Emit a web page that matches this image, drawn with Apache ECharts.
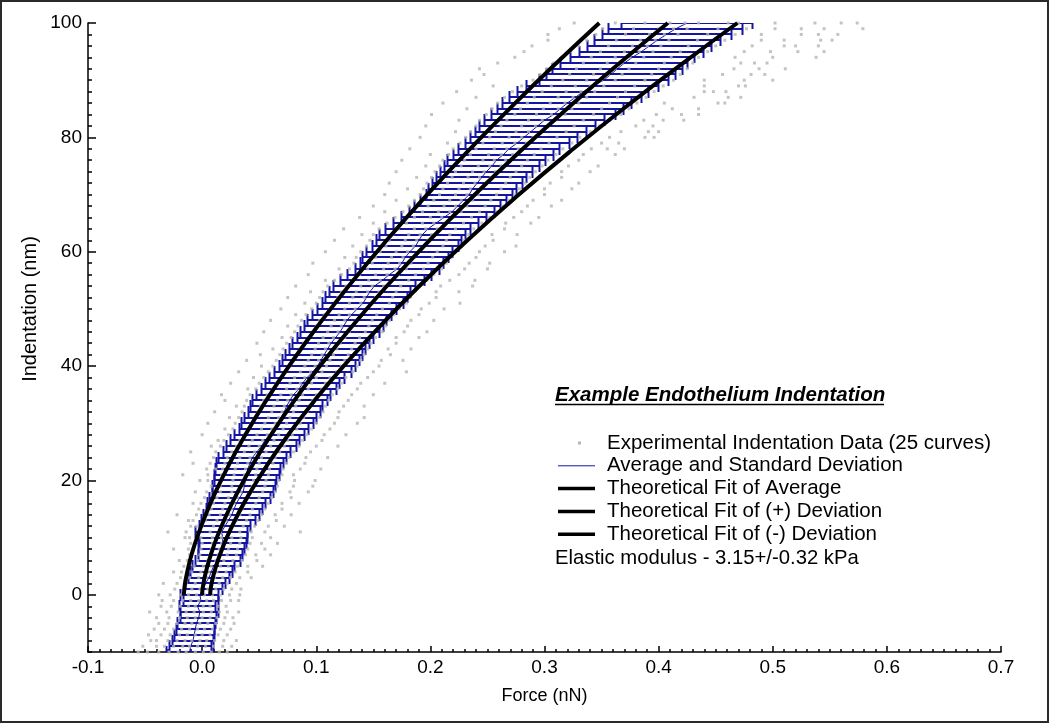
<!DOCTYPE html>
<html><head><meta charset="utf-8">
<script src="https://cdn.jsdelivr.net/npm/echarts@6/dist/echarts.min.js"></script>
<style>html,body{margin:0;padding:0;background:#fff}#c{width:1050px;height:724px}</style>
</head><body><div id="c"></div>
<script>
// Indentation levels (nm)
const yLevels = [-10,-9,-8,-7,-6,-5,-4,-3,-2,-1,
 0,1,2,3,4,5,6,7,8,9,10,11,12,13,14,15,16,17,18,19,
 20,21,22,23,24,25,26,27,28,29,30,31,32,33,34,35,36,37,38,39,
 40,41,42,43,44,45,46,47,48,49,50,51,52,53,54,55,56,57,58,59,
 60,61,62,63,64,65,66,67,68,69,70,71,72,73,74,75,76,77,78,79,
 80,81,82,83,84,85,86,87,88,89,90,91,92,93,94,95,96,97,98,99,100];
// Average force (pN, i.e. thousandths of nN)
const avgForce = [-11,-10,-8,-7,-6,-5,-3,-2,-4,-1,
 -2,1,3,6,8,10,14,16,17,18,
 18,17,20,23,26,28,30,33,36,37,
 38,39,40,42,44,48,52,55,59,63,
 66,69,72,74,77,80,85,88,92,97,
 101,104,107,110,113,117,121,124,127,131,
 136,141,144,147,151,158,164,171,175,178,
 182,187,190,193,198,205,212,219,224,229,
 234,237,241,245,249,254,258,264,269,276,
 282,288,294,300,308,314,320,327,334,342,
 352,358,364,370,377,385,392,399,407,415,
 425];
// Standard deviation of force (pN)
const sdForce = [21,19,18,18,17,17,16,17,16,16,
 17,17,18,18,19,19,20,20,21,21,
 22,23,23,24,25,25,26,27,27,28,
 28,29,29,30,30,30,31,31,31,31,
 32,32,32,32,33,33,33,33,33,34,
 34,34,34,34,34,34,35,35,35,35,
 35,36,36,36,36,37,37,37,37,38,
 38,38,38,38,38,38,38,38,38,38,
 38,39,40,40,41,42,43,44,45,46,
 47,49,51,53,55,56,57,58,58,58,
 57,57,57,56,55,55,55,56,57,59,
 58];
// Experimental points (pN) per indentation level
const scatterRows = [
 [-56,-48,-38,-29,-21,-14,-6,1,8,15,22],
 [-52,-40,-33,-25,-17,-11,-4,3,10,18,26],
 [-45,-40,-30,-22,-15,-9,-2,4,11,19,30],
 [-47,-36,-28,-20,-13,-6,0,7,14,22],
 [-42,-33,-25,-18,-11,-4,2,9,16,25],
 [-38,-30,-22,-15,-9,-2,5,12,19,28],
 [-40,-29,-20,-13,-6,0,7,13,20,27],
 [-46,-31,-21,-14,-7,1,8,15,22,32],
 [-36,-27,-19,-12,-6,1,7,14,21],
 [-35,-25,-17,-10,-3,4,10,17,25,32],
 [-38,-28,-19,-12,-5,2,9,16,24,33],
 [-24,-16,-9,-2,5,12,19,26,34],
 [-34,-22,-14,-6,1,8,15,22,30],
 [-19,-11,-3,4,11,18,25,33,43],
 [-25,-18,-9,-1,6,13,21,29,40],
 [-16,-7,1,8,16,23,31,40,53],
 [-20,-13,-4,5,12,19,27,35,48],
 [-11,-2,7,14,22,30,38,47,60],
 [-25,-12,-1,8,15,23,31,40,55],
 [-10,0,9,17,25,33,42,52,66],
 [-15,-11,-1,9,17,26,34,44,60],
 [-30,-14,-3,7,16,24,33,43,55,86],
 [-5,-10,0,10,18,27,36,46,58,72],
 [-12,-8,3,13,21,30,39,49,65],
 [-22,-5,6,16,24,33,42,52,64,78],
 [-3,8,18,26,35,44,55,70],
 [-8,-1,10,20,28,37,47,58,70,85],
 [2,13,23,31,40,50,61,78],
 [-6,4,16,26,34,43,53,64,77,93],
 [8,16,26,35,44,55,66,80,97],
 [-2,5,17,27,36,45,56,67,81,99],
 [-17,5,17,28,37,47,58,70,80],
 [4,12,18,29,38,48,59,71,86,104],
 [-8,7,20,31,40,50,62,74,90],
 [10,22,33,42,52,64,76,91,110],
 [-10,12,26,37,46,56,68,80,95],
 [8,16,30,41,50,60,72,85,100,119],
 [14,19,33,44,53,63,75,88,105],
 [0,23,37,48,57,67,79,92,107,126],
 [20,27,41,52,61,71,83,96,112],
 [5,29,43,55,64,74,86,100,116,136],
 [24,32,46,58,67,77,89,103,119,142],
 [11,35,49,61,70,80,92,106,120],
 [30,37,51,63,72,82,94,108,124,142],
 [20,39,54,66,75,85,97,111,128],
 [17,42,57,69,78,88,100,114,131,150],
 [40,47,62,74,83,93,105,119,136],
 [25,50,65,77,86,96,108,122,139,160],
 [45,54,69,81,90,100,112,126,145],
 [32,58,73,86,95,105,118,132,150,179],
 [52,62,77,90,99,109,122,136,155],
 [39,65,80,93,102,112,125,139,157,176],
 [51,68,83,96,105,115,128,142,165],
 [62,71,86,99,108,118,131,145,163,183],
 [48,74,89,102,111,121,134,148,170],
 [70,78,93,106,115,125,138,152,170,190],
 [54,81,97,110,119,129,143,158,177,197],
 [75,84,100,113,122,132,146,161,180],
 [60,87,103,116,125,135,149,164,183,203],
 [82,91,107,120,129,139,153,168,190],
 [69,96,112,125,134,144,158,173,192,212],
 [90,100,116,129,139,149,164,179,199,226],
 [75,103,119,132,142,152,167,182,205],
 [95,106,122,135,145,155,170,185,205,225],
 [82,110,126,139,149,159,174,189,209,237],
 [108,116,132,146,156,166,181,197,217,239],
 [93,122,138,152,162,172,187,203,225],
 [120,129,145,159,169,179,194,210,230,250],
 [97,133,149,163,173,183,198,214,234,252],
 [125,135,152,166,176,186,202,218,240],
 [108,139,156,170,180,190,206,222,243,265],
 [132,144,161,175,185,195,211,227,248,275],
 [116,147,164,178,188,198,214,230,255],
 [140,150,167,181,191,201,217,233,254,276],
 [124,155,172,186,196,206,222,238,265],
 [150,162,179,193,203,213,229,245,266,288],
 [138,169,186,200,210,220,236,252,273,295],
 [160,176,193,207,217,227,243,259,280],
 [150,181,198,212,222,232,248,264,285,306],
 [170,186,203,217,227,237,253,269,290,315],
 [160,191,208,222,232,242,258,274,300],
 [180,194,211,225,235,245,262,278,300,324],
 [164,197,215,229,239,249,266,283,305,330],
 [188,201,219,233,243,253,270,287,315],
 [170,204,222,237,247,257,275,292,315,340],
 [196,208,227,242,252,262,280,298,321,347],
 [175,211,230,246,256,266,285,303,330],
 [200,216,235,251,262,272,291,310,334,362],
 [182,220,240,256,267,277,297,316,341,355,370],
 [215,226,246,263,274,284,304,324,350,365],
 [191,231,252,269,280,290,311,331,357,388,396],
 [222,235,257,275,286,297,319,340,367,391,400],
 [196,240,262,280,292,303,326,348,380,395],
 [225,243,267,286,298,310,334,357,387,404,422],
 [201,249,274,293,306,318,343,367,398,420,435],
 [232,254,279,299,312,324,350,374,412,435],
 [211,259,285,305,318,330,357,381,405,452,458],
 [240,265,291,312,325,337,364,389,431,461,472],
 [223,272,298,319,332,344,371,396,440,448,459],
 [255,280,306,327,340,352,379,404,440,470,476],
 [236,290,316,337,350,362,388,413,440,475,500],
 [247,296,322,343,356,368,394,419,456,481,493],
 [243,302,328,349,362,374,400,425,466,488,511],
 [259,308,334,355,368,380,405,430,472,484,495],
 [274,315,341,362,375,387,411,435,467,500,538],
 [282,323,349,370,383,395,419,443,475,498,522,545],
 [289,330,356,377,390,402,426,450,482,510,520,540],
 [303,337,363,384,397,409,434,458,490,510,542,552],
 [303,345,371,392,405,417,443,467,490,525,540,557],
 [313,351,378,400,413,425,452,477,502,525,545,579],
 [326,362,388,410,423,435,461,470,502,537,560,574]
];
// Theoretical fits (indentation nm vs force nN)
const fitY       = [0,1,2,3,5,7,10,14,18,23,28,34,40,47,54,62,70,78,86,93,100];
const fitMinus   = [-0.016,-0.0156,-0.015,-0.0141,-0.0119,-0.0093,-0.0045,0.0031,0.0118,0.0241,0.0379,0.0562,0.0761,0.1013,0.1284,0.1617,0.1972,0.2348,0.2743,0.3105,0.348];
const fitAverage = [0,0.0004,0.0012,0.0021,0.0046,0.0076,0.0129,0.0214,0.0312,0.045,0.0605,0.0809,0.1032,0.1315,0.1619,0.1992,0.239,0.2811,0.3254,0.3659,0.408];
const fitPlus    = [0.007,0.0075,0.0083,0.0094,0.0122,0.0156,0.0216,0.0312,0.0423,0.058,0.0755,0.0986,0.1239,0.1559,0.1903,0.2325,0.2776,0.3253,0.3754,0.4214,0.469];
const yLabelValues = [0,20,40,60,80,100];
const legendNames = ['Experimental Indentation Data (25 curves)','Average and Standard Deviation','Theoretical Fit of Average','Theoretical Fit of (+) Deviation','Theoretical Fit of (-) Deviation'];
const titleText = 'Example Endothelium Indentation';
const noteText = 'Elastic modulus - 3.15+/-0.32 kPa';

const FONT = '"Liberation Sans", Arial, sans-serif';
const BLUE = '#1515a3';
const GRAY = '#b5b5b5';

const barData = yLevels.map((y,i)=>[y,(avgForce[i]-sdForce[i])/1000,(avgForce[i]+sdForce[i])/1000]);
const avgData = yLevels.map((y,i)=>[avgForce[i]/1000,y]);
const scatterData = [];
scatterRows.forEach((row,i)=>row.forEach(v=>scatterData.push([v/1000,yLevels[i]])));
const fitSeries = (arr)=>fitY.map((y,i)=>[arr[i],y]);

const chart = echarts.init(document.getElementById('c'), null, {renderer:'canvas'});

const legendTop = 443, legendStep = 22.8;
const graphics = [
 {type:'rect', shape:{x:1,y:1,width:1047,height:721}, style:{fill:'none',stroke:'#2a2a2a',lineWidth:2}, silent:true},
 {type:'text', x:30, y:309, rotation:Math.PI/2, style:{text:'Indentation (nm)', font:'20px '+FONT, fill:'#000', textAlign:'center', textVerticalAlign:'middle'}},
 {type:'text', x:555, y:395, style:{text:titleText, font:'italic bold 20.5px '+FONT, fill:'#000', textAlign:'left', textVerticalAlign:'middle'}},
 {type:'line', shape:{x1:555,y1:404.5,x2:884,y2:404.5}, style:{stroke:'#000',lineWidth:1.5}},
 {type:'rect', shape:{x:578,y:legendTop-1.5,width:3,height:3}, style:{fill:GRAY}},
 {type:'line', shape:{x1:558,y1:legendTop+legendStep,x2:595,y2:legendTop+legendStep}, style:{stroke:BLUE,lineWidth:1}},
 {type:'line', shape:{x1:558,y1:legendTop+2*legendStep,x2:595,y2:legendTop+2*legendStep}, style:{stroke:'#000',lineWidth:3.5}},
 {type:'line', shape:{x1:558,y1:legendTop+3*legendStep,x2:595,y2:legendTop+3*legendStep}, style:{stroke:'#000',lineWidth:3.5}},
 {type:'line', shape:{x1:558,y1:legendTop+4*legendStep,x2:595,y2:legendTop+4*legendStep}, style:{stroke:'#000',lineWidth:3.5}},
 {type:'text', x:555, y:legendTop+5*legendStep+1, style:{text:noteText, font:'20.3px '+FONT, fill:'#000', textAlign:'left', textVerticalAlign:'middle'}}
];
legendNames.forEach((n,i)=>graphics.push({type:'text', x:607, y:legendTop+i*legendStep, style:{text:n, font:'20.5px '+FONT, fill:'#000', textAlign:'left', textVerticalAlign:'middle'}}));

chart.setOption({
 animation:false,
 backgroundColor:'#fff',
 grid:{left:88,right:49,top:23,bottom:72,containLabel:false},
 xAxis:{type:'value',min:-0.1,max:0.7,interval:0.1,
  name:'Force (nN)',nameLocation:'middle',nameGap:35,nameTextStyle:{fontSize:18,color:'#000',fontFamily:FONT},
  axisLine:{show:true,onZero:false,lineStyle:{color:'#000',width:1.5}},
  axisTick:{show:true,inside:true,length:6,lineStyle:{color:'#000',width:1.5}},
  minorTick:{show:true,splitNumber:10,length:3,lineStyle:{color:'#000',width:1.5}},
  axisLabel:{color:'#000',fontSize:19,fontFamily:FONT,margin:6,formatter:v=>v.toFixed(1)},
  splitLine:{show:false},minorSplitLine:{show:false}},
 yAxis:[
  {type:'value',min:-10,max:100,interval:2,position:'left',
   axisLine:{show:true,onZero:false,lineStyle:{color:'#000',width:1.5}},
   axisTick:{show:true,inside:true,length:4,lineStyle:{color:'#000',width:1.5}},
   axisLabel:{show:false},splitLine:{show:false}},
  {type:'value',min:-10,max:100,position:'left',offset:0,
   axisLine:{show:false,onZero:false},
   axisTick:{show:true,inside:true,length:8,customValues:yLabelValues,lineStyle:{color:'#000',width:1.5}},
   axisLabel:{show:true,customValues:yLabelValues,color:'#000',fontSize:19,fontFamily:FONT,margin:6},
   splitLine:{show:false}}
 ],
 series:[
  {name:legendNames[1]+' bars',type:'custom',z:2,clip:true,data:barData,encode:{x:[1,2],y:0},
   renderItem:(params,api)=>{
    const y=api.value(0), lo=api.value(1), hi=api.value(2);
    const p1=api.coord([lo,y]), p2=api.coord([hi,y]);
    const yy=Math.round(p1[1]), x1=Math.round(p1[0])+0.5, x2=Math.round(p2[0])-0.5;
    const h=6, st={stroke:BLUE,lineWidth:2};
    return {type:'group',children:[
     {type:'line',shape:{x1:x1,y1:yy,x2:x2,y2:yy},style:st},
     {type:'line',shape:{x1:x1,y1:yy-h,x2:x1,y2:yy+h},style:st},
     {type:'line',shape:{x1:x2,y1:yy-h,x2:x2,y2:yy+h},style:st}]};
   }},
  {name:legendNames[1],type:'line',z:3,data:avgData,symbol:'none',lineStyle:{color:BLUE,width:1}},
  {name:legendNames[0],type:'scatter',z:4,data:scatterData,symbol:'rect',symbolSize:3,itemStyle:{color:GRAY}},
  {name:legendNames[2],type:'line',z:5,data:fitSeries(fitAverage),smooth:true,symbol:'none',lineStyle:{color:'#000',width:4}},
  {name:legendNames[3],type:'line',z:5,data:fitSeries(fitPlus),smooth:true,symbol:'none',lineStyle:{color:'#000',width:4}},
  {name:legendNames[4],type:'line',z:5,data:fitSeries(fitMinus),smooth:true,symbol:'none',lineStyle:{color:'#000',width:4}}
 ],
 graphic:graphics
});
</script></body></html>
